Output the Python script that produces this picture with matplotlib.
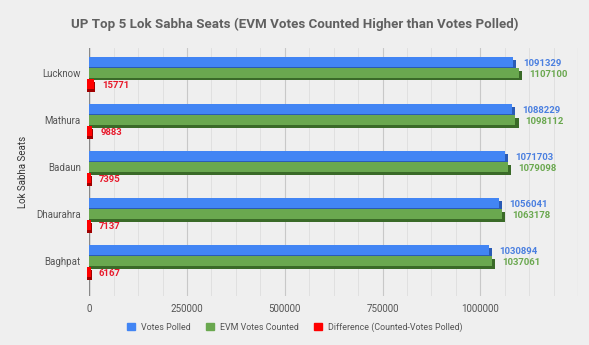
import numpy as np
import matplotlib.pyplot as plt
from matplotlib.ticker import MultipleLocator

plt.rcParams['font.family'] = ['Roboto', 'DejaVu Sans']

seats = ["Lucknow", "Mathura", "Badaun", "Dhaurahra", "Baghpat"]
votes_polled = [1091329, 1088229, 1071703, 1056041, 1030894]
evm_counted = [1107100, 1098112, 1079098, 1063178, 1037061]
difference = [15771, 9883, 7395, 7137, 6167]

# name, values, face, side, label colour, start, depth, bar height
series = [
    ("Votes Polled", votes_polled, "#4285f4", "#2a5bb5", "#4a7fe0", 0, 8000, 0.2),
    ("EVM Votes Counted", evm_counted, "#6aa84f", "#3a6a28", "#6aa84f", 0, 8000, 0.2),
    ("Difference (Counted-Votes Polled)", difference, "#ff0000", "#a00000", "#e8182a", -5000, 3000, 0.22),
]

bg = "#efefef"
fig = plt.figure(figsize=(5.89, 3.45), dpi=100, facecolor=bg)
ax = fig.add_axes([0.1516, 0.142, 0.8297, 0.719], facecolor=bg)

y = np.arange(len(seats))
offsets = [-0.234, 0.0, 0.234]
dy = 0.06

for (name, vals, col, dark, tcol, start, depth, h), off in zip(series, offsets):
    pos = y + off
    vals = np.array(vals)
    # darker copy behind the bar gives the raised look
    back = ax.barh(pos + dy, vals - start, left=start, height=h, color=dark, zorder=3)
    face = ax.barh(pos, vals - start - depth, left=start, height=h, color=col, label=name, zorder=4)
    for patch in list(back) + list(face):
        patch.set_clip_on(False)
    for p, v in zip(pos, vals):
        ax.text(v + 18000, p + 0.03, str(v), ha="left", va="center",
                fontsize=6.8, color=tcol, fontweight="bold", zorder=5)

ax.set_xlim(0, 1250000)
ax.set_ylim(4.74, -0.53)
ax.xaxis.set_major_locator(MultipleLocator(250000))
ax.xaxis.set_minor_locator(MultipleLocator(62500))
ax.set_xticks([0, 250000, 500000, 750000, 1000000])
ax.set_xticklabels(["0", "250000", "500000", "750000", "1000000"])
ax.grid(axis="x", which="major", color="#c8c8c8", linewidth=0.8, zorder=0)
ax.grid(axis="x", which="minor", color="#dedede", linewidth=0.6, zorder=0)
ax.axvline(0, color="#888888", linewidth=1.0, zorder=2)
ax.axvline(1250000, color="#c8c8c8", linewidth=0.8, zorder=0)

ax.set_yticks(y)
ax.set_yticklabels(seats)
ax.tick_params(axis="both", which="both", length=0, labelsize=7, labelcolor="#555555")
ax.tick_params(axis="x", pad=6)
ax.tick_params(axis="y", pad=6)
for s in ax.spines.values():
    s.set_visible(False)

ax.set_ylabel("Lok Sabha Seats", fontsize=7, color="#333333", labelpad=6)

fig.text(0.5, 0.93, "UP Top 5 Lok Sabha Seats (EVM Votes Counted Higher than Votes Polled)",
         ha="center", va="center", fontsize=9.6, fontweight="bold", color="#606060")

handles = [plt.Rectangle((0, 0), 1, 1, color=s[2]) for s in series]
fig.legend(handles, [s[0] for s in series], loc="center", bbox_to_anchor=(0.50, 0.052),
           ncol=3, frameon=False, fontsize=6.4, labelcolor="#555555",
           handlelength=0.9, handleheight=0.9, handletextpad=0.7, columnspacing=1.7)

fig.savefig("out.png", dpi=100, facecolor=bg)
